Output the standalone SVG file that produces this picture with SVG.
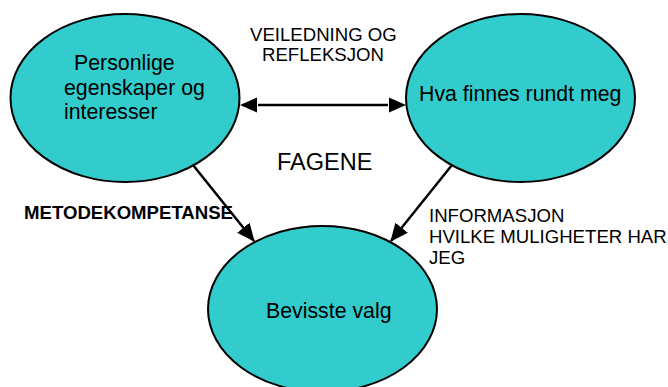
<svg xmlns="http://www.w3.org/2000/svg" width="668" height="387" viewBox="0 0 668 387">
<style>
.node{fill:#33CCCC;stroke:#000;stroke-width:2}
.t{font-family:"Liberation Sans",Arial,sans-serif;fill:#000}
.lbl{font-size:18.6px}
.nt{font-size:21.3px}
.conn{stroke:#000;stroke-width:2.5;fill:none}
</style>
<defs>
<marker id="ah" markerUnits="userSpaceOnUse" markerWidth="18" markerHeight="16" refX="17" refY="8" orient="auto-start-reverse" viewBox="0 0 18 16">
<path d="M0,0 L18,8 L0,16 z" fill="#000"/>
</marker>
</defs>
<rect width="668" height="387" fill="#fff"/>
<g id="n1">
<ellipse class="node" cx="125" cy="98" rx="114.5" ry="84"/>
<text class="t nt" x="74" y="70">Personlige</text>
<text class="t nt" x="64" y="95">egenskaper og</text>
<text class="t nt" x="64" y="119">interesser</text>
</g>
<g id="n2">
<ellipse class="node" cx="520.5" cy="98" rx="114.5" ry="84"/>
<text class="t nt" x="419" y="101">Hva finnes rundt meg</text>
</g>
<g id="n3">
<ellipse class="node" cx="322.5" cy="309" rx="114.5" ry="83"/>
<text class="t nt" x="266" y="318">Bevisste valg</text>
</g>
<g id="connectors">
<line class="conn" x1="258" y1="105" x2="388" y2="105"/>
<path d="M240,105 L257,97.5 L257,112.5 z" fill="#000"/>
<path d="M406,105 L389,97.5 L389,112.5 z" fill="#000"/>
<line class="conn" x1="193" y1="165" x2="254" y2="241" marker-end="url(#ah)"/>
<line class="conn" x1="452" y1="165" x2="391" y2="241" marker-end="url(#ah)"/>
</g>
<g id="labels">
<text class="t lbl" x="250" y="41">VEILEDNING OG</text>
<text class="t lbl" x="262" y="61">REFLEKSJON</text>
<text class="t" x="277" y="170" font-size="23.5px">FAGENE</text>
<text class="t lbl" x="24" y="219" font-weight="bold">METODEKOMPETANSE</text>
<text class="t lbl" x="429" y="222">INFORMASJON</text>
<text class="t lbl" x="429" y="243">HVILKE MULIGHETER HAR</text>
<text class="t lbl" x="429" y="264">JEG</text>
</g>
</svg>
